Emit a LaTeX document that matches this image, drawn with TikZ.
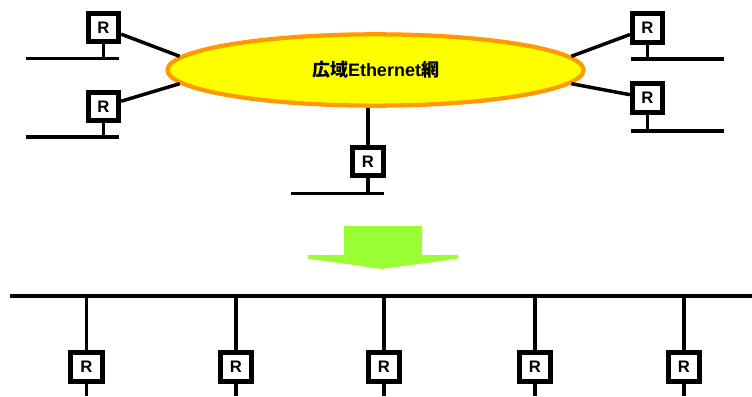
\documentclass[tikz,border=0pt]{standalone}
\usepackage{fontspec}
\setmainfont{Liberation Sans}
\newfontfamily\cjk{Noto Sans CJK JP}
\usetikzlibrary{shapes.geometric}
\definecolor{ellfill}{HTML}{FFFF00}
\definecolor{elldraw}{HTML}{FF9900}
\definecolor{arrowgreen}{HTML}{99FF33}
\tikzset{
  router/.style={rectangle, draw=black, line width=3.6pt, fill=white, minimum width=22.8pt, minimum height=21.4pt,
    inner sep=0pt, font=\fontsize{12.5}{12.5}\selectfont\bfseries},
  wire/.style={line width=2.6pt},
  seg/.style={line width=2.6pt},
  busline/.style={line width=3.2pt},
  wan/.style={ellipse, draw=elldraw, fill=ellfill, line width=3.2pt, minimum width=312pt,
    minimum height=53.5pt, inner sep=0pt, font=\fontsize{13.5}{15}\selectfont\bfseries},
  bigarrow/.style={fill=arrowgreen, draw=none}
}
\begin{document}
\begin{tikzpicture}[x=0.75pt, y=-0.75pt]
\useasboundingbox (0,0) rectangle (752,396);

% WAN ellipse
\node[wan] (ell) at (375.5,70) {{\cjk\bfseries 広域}Ethernet{\cjk\bfseries 網}};

% top routers
\node[router] (r1) at (103.5,27.5) {R};
\node[router] (r2) at (103.5,106.5) {R};
\node[router] (r3) at (647.5,28) {R};
\node[router] (r4) at (647.5,98) {R};
\node[router] (r5) at (368,161.5) {R};

% base segments
\coordinate (b1l) at (26,58.5);  \coordinate (b1r) at (119,58.5);
\coordinate (b2l) at (26,137);   \coordinate (b2r) at (119,137);
\coordinate (b3l) at (631,59);   \coordinate (b3r) at (724,59);
\coordinate (b4l) at (631,131);  \coordinate (b4r) at (724,131);
\coordinate (b5l) at (291,193.5);\coordinate (b5r) at (384,193.5);
\draw[seg] (b1l) -- (b1r);
\draw[seg] (b2l) -- (b2r);
\draw[seg] (b3l) -- (b3r);
\draw[seg] (b4l) -- (b4r);
\draw[seg] (b5l) -- (b5r);
\draw[wire] (r1.south) -- (r1.south |- b1l);
\draw[wire] (r2.south) -- (r2.south |- b2l);
\draw[wire] (r3.south) -- (r3.south |- b3l);
\draw[wire] (r4.south) -- (r4.south |- b4l);
\draw[wire] (r5.south) -- (r5.south |- b5l);

% links to WAN
\draw[wire] (ell.176) -- (r1);
\draw[wire] (ell.184) -- (r2);
\draw[wire] (ell.4) -- (r3);
\draw[wire] (ell.356) -- (r4);
\draw[wire] (r5.north) -- (r5.north |- ell.south);

% big arrow
\fill[bigarrow] (344,226) -- (422,226) -- (422,255) -- (458,255) -- (458,258.5)
  -- (382,269) -- (308,258.5) -- (308,255) -- (344,255) -- cycle;

% bus
\coordinate (busl) at (10,296);
\coordinate (busr) at (752,296);
\draw[busline] (busl) -- (busr);

\foreach \i/\x in {1/86.5, 2/236, 3/384, 4/535, 5/684} {
  \node[router, minimum width=23.8pt, minimum height=21.9pt] (s\i) at (\x,367) {R};
  \coordinate (sb\i) at (\x,396);
  \draw[wire] (s\i.north) -- (s\i.north |- busl);
  \draw[wire] (s\i.south) -- (sb\i);
}
\end{tikzpicture}
\end{document}
